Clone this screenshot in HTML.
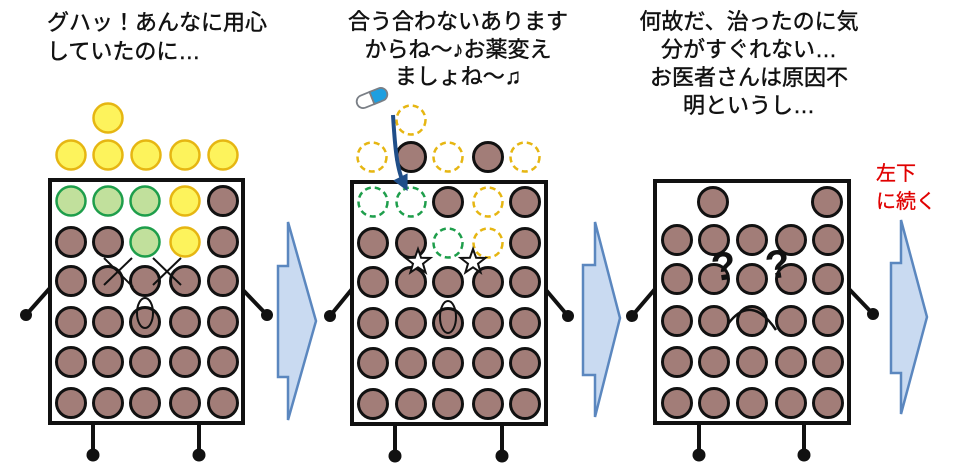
<!DOCTYPE html>
<html><head><meta charset="utf-8">
<style>
html,body{margin:0;padding:0;background:#fff;}
body{width:960px;height:474px;position:relative;overflow:hidden;}
.t{position:absolute;font-family:"Liberation Sans","Noto Sans CJK JP",sans-serif;font-size:22px;color:#111;white-space:nowrap;-webkit-text-stroke:0.45px #111;}
svg{position:absolute;left:0;top:0;}
</style></head><body>
<svg width="960" height="474" viewBox="0 0 960 474" xmlns="http://www.w3.org/2000/svg">
<defs>
<marker id="ah" markerWidth="4" markerHeight="4" refX="2" refY="2" orient="auto" markerUnits="strokeWidth">
<path d="M0,0 L4,2 L0,4 Z" fill="#1f4e89"/>
</marker>
</defs>
<g stroke="#111" stroke-width="4" stroke-linecap="round" fill="#111">
<line x1="50" y1="288" x2="26" y2="315"/><circle cx="26" cy="315" r="6" stroke="none"/>
<line x1="243" y1="290" x2="267" y2="315"/><circle cx="267" cy="315" r="6" stroke="none"/>
<line x1="93" y1="424" x2="93" y2="455" stroke-linecap="butt"/><circle cx="93" cy="455" r="6.5" stroke="none"/>
<line x1="199" y1="424" x2="199" y2="455" stroke-linecap="butt"/><circle cx="199" cy="455" r="6.5" stroke="none"/>
<line x1="352" y1="289" x2="330" y2="316"/><circle cx="330" cy="316" r="6" stroke="none"/>
<line x1="546" y1="290" x2="568" y2="316"/><circle cx="568" cy="316" r="6" stroke="none"/>
<line x1="395" y1="425" x2="395" y2="456" stroke-linecap="butt"/><circle cx="395" cy="456" r="6.5" stroke="none"/>
<line x1="502" y1="425" x2="502" y2="456" stroke-linecap="butt"/><circle cx="502" cy="456" r="6.5" stroke="none"/>
<line x1="655" y1="289" x2="632" y2="316"/><circle cx="632" cy="316" r="6" stroke="none"/>
<line x1="849" y1="289" x2="873" y2="314"/><circle cx="873" cy="314" r="6" stroke="none"/>
<line x1="699" y1="424" x2="699" y2="455" stroke-linecap="butt"/><circle cx="699" cy="455" r="6.5" stroke="none"/>
<line x1="804" y1="424" x2="804" y2="455" stroke-linecap="butt"/><circle cx="804" cy="455" r="6.5" stroke="none"/>
</g>
<g fill="#fff" stroke="#111" stroke-width="4">
<rect x="50" y="180" width="193" height="243"/>
<rect x="352" y="182" width="194" height="242"/>
<rect x="655" y="181" width="194" height="242"/>
</g>

<g stroke-width="2.5" fill="#fdf35c" stroke="#e6b612">
<circle cx="108" cy="118" r="14.5"/>
<circle cx="71" cy="155" r="14.5"/><circle cx="108" cy="155" r="14.5"/><circle cx="146" cy="155" r="14.5"/><circle cx="185" cy="155" r="14.5"/><circle cx="223" cy="155" r="14.5"/>
<circle cx="185" cy="201" r="14.5"/><circle cx="185" cy="242" r="14.5"/>
</g>
<g stroke-width="2.5" fill="#c1e09c" stroke="#1e9e4b">
<circle cx="71" cy="201" r="14.5"/><circle cx="108" cy="201" r="14.5"/><circle cx="145" cy="201" r="14.5"/>
<circle cx="145" cy="242" r="14.5"/>
</g>
<g stroke-width="3" fill="#a27d78" stroke="#111">
<circle cx="223" cy="201" r="14.5"/>
<circle cx="71" cy="242" r="14.5"/><circle cx="108" cy="242" r="14.5"/><circle cx="223" cy="242" r="14.5"/>
<circle cx="71" cy="281" r="14.5"/><circle cx="108" cy="281" r="14.5"/><circle cx="145" cy="281" r="14.5"/><circle cx="185" cy="281" r="14.5"/><circle cx="223" cy="281" r="14.5"/>
<circle cx="71" cy="322" r="14.5"/><circle cx="108" cy="322" r="14.5"/><circle cx="145" cy="322" r="14.5"/><circle cx="185" cy="322" r="14.5"/><circle cx="223" cy="322" r="14.5"/>
<circle cx="71" cy="362" r="14.5"/><circle cx="108" cy="362" r="14.5"/><circle cx="145" cy="362" r="14.5"/><circle cx="185" cy="362" r="14.5"/><circle cx="223" cy="362" r="14.5"/>
<circle cx="71" cy="403" r="14.5"/><circle cx="108" cy="403" r="14.5"/><circle cx="145" cy="403" r="14.5"/><circle cx="185" cy="403" r="14.5"/><circle cx="223" cy="403" r="14.5"/>
</g>
<g stroke="#111" stroke-width="2" fill="none">
<line x1="104" y1="258" x2="133" y2="287"/><line x1="132" y1="258" x2="104" y2="285"/>
<line x1="153" y1="258" x2="181" y2="285"/><line x1="181" y1="258" x2="153" y2="285"/>
<ellipse cx="145" cy="313" rx="8" ry="15"/>
</g>

<g stroke-width="2.5" fill="none" stroke="#e6b612" stroke-dasharray="6 4">
<circle cx="411" cy="120" r="14.5"/>
<circle cx="372" cy="157" r="14.5"/><circle cx="448" cy="157" r="14.5"/><circle cx="525" cy="157" r="14.5"/>
<circle cx="488" cy="202" r="14.5"/><circle cx="488" cy="243" r="14.5"/>
</g>
<g stroke-width="2.5" fill="none" stroke="#1e9e4b" stroke-dasharray="6 4">
<circle cx="373" cy="202" r="14.5"/><circle cx="411" cy="202" r="14.5"/>
<circle cx="448" cy="243" r="14.5"/>
</g>
<g stroke-width="3" fill="#a27d78" stroke="#111">
<circle cx="411" cy="157" r="14.5"/><circle cx="488" cy="157" r="14.5"/>
<circle cx="448" cy="202" r="14.5"/><circle cx="525" cy="202" r="14.5"/>
<circle cx="373" cy="243" r="14.5"/><circle cx="411" cy="243" r="14.5"/><circle cx="525" cy="243" r="14.5"/>
<circle cx="373" cy="282" r="14.5"/><circle cx="411" cy="282" r="14.5"/><circle cx="448" cy="282" r="14.5"/><circle cx="488" cy="282" r="14.5"/><circle cx="525" cy="282" r="14.5"/>
<circle cx="373" cy="323" r="14.5"/><circle cx="411" cy="323" r="14.5"/><circle cx="448" cy="323" r="14.5"/><circle cx="488" cy="323" r="14.5"/><circle cx="525" cy="323" r="14.5"/>
<circle cx="373" cy="363" r="14.5"/><circle cx="411" cy="363" r="14.5"/><circle cx="448" cy="363" r="14.5"/><circle cx="488" cy="363" r="14.5"/><circle cx="525" cy="363" r="14.5"/>
<circle cx="373" cy="404" r="14.5"/><circle cx="411" cy="404" r="14.5"/><circle cx="448" cy="404" r="14.5"/><circle cx="488" cy="404" r="14.5"/><circle cx="525" cy="404" r="14.5"/>
</g>
<g stroke="#111" stroke-width="2" fill="#fff" stroke-linejoin="miter">
<polygon points="418,249 421.1,257.8 430.4,258 423,263.7 425.6,272.5 418,267.3 410.4,272.5 413,263.7 405.6,258 414.9,257.8"/>
<polygon points="473,249 476.1,257.8 485.4,258 478,263.7 480.6,272.5 473,267.3 465.4,272.5 468,263.7 460.6,258 469.9,257.8"/>
</g>
<ellipse cx="448" cy="317" rx="8" ry="16" fill="none" stroke="#111" stroke-width="2"/>
<g transform="translate(372,98) rotate(-22)">
<path d="M0,-6.5 H-9.5 A6.5,6.5 0 0 0 -9.5,6.5 H0 Z" fill="#fff" stroke="#7a7f86" stroke-width="1.8"/>
<path d="M0,-6.5 H9.5 A6.5,6.5 0 0 1 9.5,6.5 H0 Z" fill="#1e9fe0" stroke="#7a7f86" stroke-width="1.8"/>
</g>
<path d="M393,115 C395,148 397,170 404,184" fill="none" stroke="#1f4e89" stroke-width="4" marker-end="url(#ah)"/>

<g stroke-width="3" fill="#a27d78" stroke="#111">
<circle cx="713" cy="202" r="14.5"/><circle cx="827" cy="202" r="14.5"/>
<circle cx="677" cy="240" r="14.5"/><circle cx="714" cy="240" r="14.5"/><circle cx="752" cy="240" r="14.5"/><circle cx="791" cy="240" r="14.5"/><circle cx="828" cy="240" r="14.5"/>
<circle cx="677" cy="279" r="14.5"/><circle cx="714" cy="279" r="14.5"/><circle cx="752" cy="279" r="14.5"/><circle cx="791" cy="279" r="14.5"/><circle cx="828" cy="279" r="14.5"/>
<circle cx="677" cy="321" r="14.5"/><circle cx="714" cy="321" r="14.5"/><circle cx="752" cy="321" r="14.5"/><circle cx="791" cy="321" r="14.5"/><circle cx="828" cy="321" r="14.5"/>
<circle cx="677" cy="362" r="14.5"/><circle cx="714" cy="362" r="14.5"/><circle cx="752" cy="362" r="14.5"/><circle cx="791" cy="362" r="14.5"/><circle cx="828" cy="362" r="14.5"/>
<circle cx="677" cy="403" r="14.5"/><circle cx="714" cy="403" r="14.5"/><circle cx="752" cy="403" r="14.5"/><circle cx="791" cy="403" r="14.5"/><circle cx="828" cy="403" r="14.5"/>
</g>
<text x="723" y="280" font-family="Liberation Sans, sans-serif" font-size="40" font-weight="bold" text-anchor="middle" fill="#111" transform="rotate(-8 723 262)">?</text>
<text x="777" y="278" font-family="Liberation Sans, sans-serif" font-size="40" font-weight="bold" text-anchor="middle" fill="#111" transform="rotate(-8 777 260)">?</text>
<path d="M728,324 Q751,293 776,330" fill="none" stroke="#111" stroke-width="2.5"/>

<g fill="#c9daf1" stroke="#5b87bf" stroke-width="2.5" stroke-linejoin="miter">
<polygon points="278,266 288,266 288,222 316,321 288,420 288,377 278,377"/>
<polygon points="583,265 595,265 595,222 620,318 595,417 595,375 583,375"/>
<polygon points="891,263 901,263 901,220 927,317 901,414 901,373 891,373"/>
</g>
</svg>

<div class="t" style="left:47px;top:8px;line-height:29px;">グハッ！あんなに用心<br>していたのに…</div>
<div class="t" style="left:308px;top:8px;width:300px;text-align:center;line-height:27.5px;">合う合わないあります<br>からね～♪お薬変え<br>ましょね～♫</div>
<div class="t" style="left:599px;top:8px;width:300px;text-align:center;line-height:28px;">何故だ、治ったのに気<br>分がすぐれない…<br>お医者さんは原因不<br>明というし…</div>
<div class="t" style="left:876px;top:160px;font-size:20px;line-height:28px;color:#e00000;-webkit-text-stroke:0.3px #e00000;">左下<br>に続く</div>
</body></html>
